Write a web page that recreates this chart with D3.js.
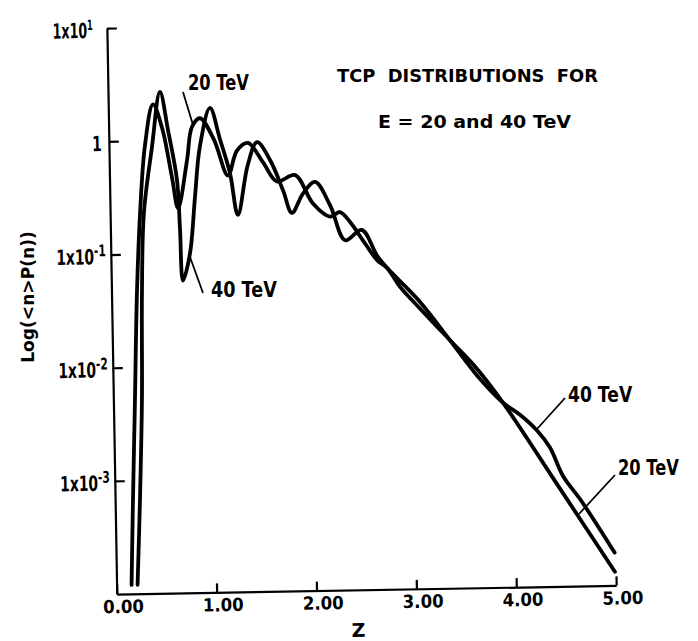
<!DOCTYPE html>
<html><head><meta charset="utf-8">
<script src="https://cdn.jsdelivr.net/npm/d3@7"></script>
<style>
body{margin:0;background:#fff;}
svg{display:block;}
text{font-family:"DejaVu Sans","Liberation Sans",sans-serif;font-weight:bold;fill:#000;}
</style></head><body>
<svg id="chart" width="698" height="641"></svg>
<script>
// ---- data ----
const z20 = [0.150,0.179,0.216,0.255,0.300,0.361,0.448,0.535,0.626,0.681,0.779,0.834,0.916,1.052,1.186,1.281,1.392,1.540,1.676,1.857,2.032,2.200,2.300,2.400,2.545,2.664,2.762,2.889,3.070,3.380,3.640,3.900,4.450,4.990];
const v20 = [1.2e-4,6.8e-4,5.1e-3,0.0457,0.229,0.912,2.09,1.29,0.468,0.251,0.661,1.30,1.55,1.00,0.479,0.794,0.923,0.617,0.417,0.473,0.263,0.200,0.219,0.178,0.115,0.0813,0.0692,0.0468,0.0309,0.0155,0.00871,0.00427,7.41e-4,1.32e-4];
const z40 = [0.210,0.249,0.286,0.305,0.338,0.430,0.520,0.594,0.675,0.697,0.718,0.793,0.853,0.910,1.018,1.113,1.207,1.279,1.386,1.483,1.610,1.735,1.820,1.935,2.056,2.204,2.348,2.516,2.664,2.762,3.070,3.380,3.640,3.900,4.070,4.235,4.360,4.490,4.660,4.990];
const v40 = [1.2e-4,6.76e-4,5.13e-3,0.0457,0.229,0.871,2.69,1.23,0.447,0.162,0.0575,0.100,0.316,0.871,1.91,1.00,0.501,0.214,0.589,0.933,0.646,0.347,0.219,0.324,0.407,0.251,0.123,0.151,0.0891,0.0692,0.0355,0.0155,0.00759,0.00427,0.00331,0.00240,0.00170,9.33e-4,5.75e-4,1.95e-4];
const xTickValues = [0,1,2,3,4,5];
const xTickLabels = ["0.00","1.00","2.00","3.00","4.00","5.00"];
const yTickValues = [1e-3,1e-2,1e-1,1,10];
const yTickBase = ["1x10","1x10","1x10","1","1x10"];
const yTickExp = ["-3","-2","-1","","1"];
const titleLines = ["TCP  DISTRIBUTIONS  FOR","E = 20 and 40 TeV"];
const xAxisTitle = "Z";
const yAxisTitle = "Log(<n>P(n))";
const seriesLabels = ["20 TeV","40 TeV"];

// ---- drawing ----
const svg = d3.select("#chart");
svg.append("rect").attr("width",698).attr("height",641).attr("fill","#fff");
const root = svg.append("g").attr("transform","rotate(-1,350,320)");

const x = d3.scaleLinear().domain([0,5]).range([112,611.5]);
const y = d3.scaleLog().domain([1e-4,10]).range([590,24]);

// y axis
const gy = root.append("g").attr("transform",`translate(${x(0)},0)`)
  .call(d3.axisLeft(y).tickValues(yTickValues).tickSize(-10).tickSizeOuter(0).tickFormat(()=>""));
gy.selectAll("path,line").attr("stroke","#000").attr("stroke-width",2.2);
gy.selectAll(".tick").each(function(d,i){
  const g = d3.select(this);
  const top = d === 10;
  const exp = yTickExp[i];
  const gap = top ? 14 : (exp ? 5 : 7);
  const sx = top ? 0.6 : 0.66;
  const t = g.append("text").attr("text-anchor","end")
    .attr("transform",`translate(${-gap},9) scale(${sx},1)`)
    .attr("font-size",21);
  t.append("tspan").text(yTickBase[i]);
  if (exp) t.append("tspan").attr("dy",-8).attr("font-size",top?14:16).text(exp);
});

// x axis
const gx = root.append("g").attr("transform",`translate(0,${y(1e-4)})`)
  .call(d3.axisBottom(x).tickValues(xTickValues).tickSize(-9).tickSizeOuter(0).tickFormat(()=>""));
gx.selectAll("path,line").attr("stroke","#000").attr("stroke-width",2.2);
gx.selectAll(".tick").each(function(d,i){
  d3.select(this).append("text").attr("text-anchor","middle")
    .attr("transform","translate(6,19) scale(0.92,1)")
    .attr("font-size",18).text(xTickLabels[i]);
});

// curves
const line = d3.line().x(d=>x(d[0])).y(d=>y(d[1])).curve(d3.curveCatmullRom.alpha(0.5));
const d20 = z20.map((z,i)=>[z,v20[i]]);
const d40 = z40.map((z,i)=>[z,v40[i]]);
[d20,d40].forEach(d=>{
  root.append("path").datum(d).attr("d",line).attr("fill","none").attr("stroke","#000")
    .attr("stroke-width",3.8).attr("stroke-linejoin","round").attr("stroke-linecap","round");
});

// axis titles
root.append("text").attr("x",353).attr("y",637).attr("text-anchor","middle").attr("font-size",19).text(xAxisTitle);
svg.append("text").attr("transform","translate(34,297) rotate(-90) scale(0.95,1)").attr("text-anchor","middle")
  .attr("font-size",18).text(yAxisTitle);

// title
svg.append("text").attr("transform","translate(337,82) scale(1.05,1)").attr("font-size",17).style("white-space","pre")
  .text(titleLines[0]);
svg.append("text").attr("transform","translate(378,128) scale(1.12,1)").attr("font-size",17).style("white-space","pre")
  .text(titleLines[1]);

// annotations with leader lines
const ann = svg.append("g");
function label(txt,x0,yb,sx){
  ann.append("text").attr("transform",`translate(${x0},${yb}) scale(${sx},1)`).attr("font-size",22).text(txt);
}
function leader(x1,y1,x2,y2){
  ann.append("line").attr("x1",x1).attr("y1",y1).attr("x2",x2).attr("y2",y2)
    .attr("stroke","#000").attr("stroke-width",1.8);
}
label(seriesLabels[0],188,90,0.74);  leader(183,92,193,125);
label(seriesLabels[1],211,297,0.8); leader(190,257,203,293);
label(seriesLabels[1],568,402,0.78); leader(537,429,565,398);
label(seriesLabels[0],618,475,0.74); leader(579,514,615,475);
</script>
</body></html>
